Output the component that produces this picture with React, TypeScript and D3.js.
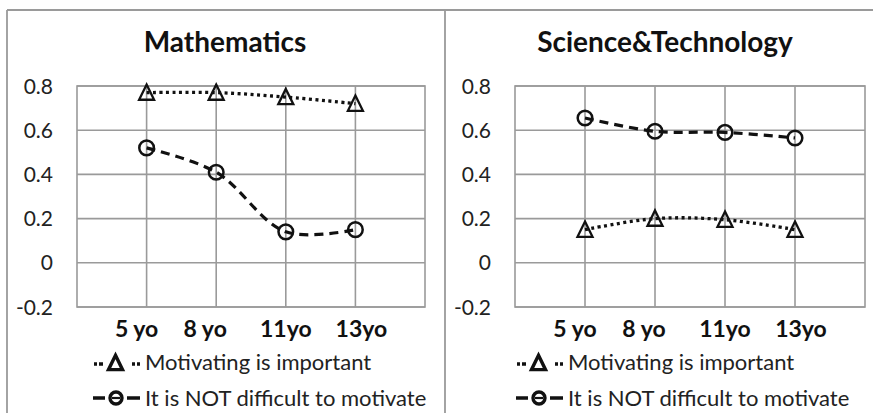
import React from "react";
import * as d3 from "d3";

const categories = ["5 yo", "8 yo", "11yo", "13yo"];
const yTicks = [-0.2, 0, 0.2, 0.4, 0.6, 0.8];
const seriesNames = ["Motivating is important", "It is NOT difficult to motivate"];
const mathImportant = [0.77, 0.77, 0.75, 0.72];
const mathNotDifficult = [0.52, 0.41, 0.14, 0.15];
const sciImportant = [0.15, 0.2, 0.195, 0.15];
const sciNotDifficult = [0.655, 0.595, 0.59, 0.565];

const W = 873;
const H = 413;
const FONT = "Lato, 'Open Sans', sans-serif";
const GRID = "#9a9a9a";
const LABEL_DX = [-10, -11, 0, 6];

type Panel = {
  title: string;
  left: number;
  right: number;
  titleX: number;
  legendX: number;
  important: number[];
  notDifficult: number[];
};

const panels: Panel[] = [
  { title: "Mathematics", left: 77, right: 425, titleX: 225, legendX: 93, important: mathImportant, notDifficult: mathNotDifficult },
  { title: "Science&Technology", left: 515, right: 865, titleX: 665, legendX: 516, important: sciImportant, notDifficult: sciNotDifficult },
];

const TOP = 86;
const BOTTOM = 307;

function triPath(cx: number, cy: number, s: number) {
  const h = s * 0.95;
  return `M${cx},${cy - h / 2 - 1}L${cx + s / 2},${cy + h / 2}L${cx - s / 2},${cy + h / 2}Z`;
}

function fmt(v: number) {
  if (Math.abs(v) < 1e-9) return "0";
  return v.toFixed(1);
}

function ChartPanel({ p }: { p: Panel }) {
  const x = d3.scaleLinear().domain([0, categories.length + 1]).range([p.left, p.right]);
  const y = d3.scaleLinear().domain([-0.2, 0.8]).range([BOTTOM, TOP]);
  const line = d3
    .line<number>()
    .x((_, i) => x(i + 1))
    .y((d) => y(d))
    .curve(d3.curveCatmullRom.alpha(0.5));
  const gridX = d3.range(1, categories.length + 1);
  const lgY1 = 362;
  const lgY2 = 398;
  const lx = p.legendX;
  return (
    <g>
      <text x={p.titleX} y={52} textAnchor="middle" fontFamily={FONT} fontWeight="bold" fontSize={28} fill="#111">
        {p.title}
      </text>
      {/* grid */}
      {yTicks.map((t) => (
        <line key={"h" + t} x1={p.left} x2={p.right} y1={y(t)} y2={y(t)} stroke={GRID} strokeWidth={1.6} />
      ))}
      {gridX.map((g) => (
        <line key={"v" + g} x1={x(g)} x2={x(g)} y1={TOP} y2={BOTTOM} stroke={GRID} strokeWidth={1.6} />
      ))}
      <rect x={p.left} y={TOP} width={p.right - p.left} height={BOTTOM - TOP} fill="none" stroke={GRID} strokeWidth={1.6} />
      {/* y tick labels */}
      {yTicks.map((t) => (
        <text key={"yl" + t} x={p.left - 24} y={y(t) + 7.5} textAnchor="end" fontFamily={FONT} fontSize={21} fill="#222">
          {fmt(t)}
        </text>
      ))}
      {/* x labels */}
      {categories.map((c, i) => (
        <text key={c} x={x(i + 1) + LABEL_DX[i]} y={337} textAnchor="middle" fontFamily={FONT} fontWeight="bold" fontSize={23} fill="#111">
          {c}
        </text>
      ))}
      {/* series */}
      <path d={line(p.important) || ""} fill="none" stroke="#111" strokeWidth={3.3} strokeDasharray="3,3.5" />
      <path d={line(p.notDifficult) || ""} fill="none" stroke="#111" strokeWidth={3.2} strokeDasharray="9,6" />
      {p.important.map((v, i) => (
        <path key={"t" + i} d={triPath(x(i + 1), y(v), 15)} fill="none" stroke="#111" strokeWidth={2.3} />
      ))}
      {p.notDifficult.map((v, i) => (
        <circle key={"c" + i} cx={x(i + 1)} cy={y(v)} r={7.3} fill="none" stroke="#111" strokeWidth={2.5} />
      ))}
      {/* legend */}
      <line x1={lx + 1} x2={lx + 47} y1={lgY1 + 2} y2={lgY1 + 2} stroke="#111" strokeWidth={3.6} strokeDasharray="3,2,4,29,3,2,3" />
      <path d={triPath(lx + 22.5, lgY1 + 1, 14)} fill="none" stroke="#111" strokeWidth={3.4} />
      <text x={lx + 52} y={lgY1 + 8} fontFamily={FONT} fontSize={22} fill="#222">
        {seriesNames[0]}
      </text>
      <line x1={lx} x2={lx + 47} y1={lgY2} y2={lgY2} stroke="#111" strokeWidth={3.4} strokeDasharray="12,22,13" />
      <line x1={lx + 19} x2={lx + 27} y1={lgY2} y2={lgY2} stroke="#111" strokeWidth={2.2} />
      <circle cx={lx + 23} cy={lgY2} r={6} fill="none" stroke="#111" strokeWidth={3.4} />
      <text x={lx + 52} y={lgY2 + 7.5} fontFamily={FONT} fontSize={22} fill="#222">
        {seriesNames[1]}
      </text>
    </g>
  );
}

export default function App() {
  return (
    <div style={{ position: "absolute", left: 0, top: 0 }}>
      <svg width={W} height={H} viewBox={`0 0 ${W} ${H}`} style={{ display: "block", background: "#fff" }}>
        <rect x={0} y={0} width={W} height={H} fill="#fff" />
        <line x1={7} x2={W} y1={10} y2={10} stroke={GRID} strokeWidth={1.8} />
        <line x1={7} x2={7} y1={10} y2={H} stroke={GRID} strokeWidth={1.8} />
        <line x1={445} x2={445} y1={10} y2={H} stroke={GRID} strokeWidth={1.8} />
        {panels.map((p) => (
          <ChartPanel key={p.title} p={p} />
        ))}
      </svg>
    </div>
  );
}
